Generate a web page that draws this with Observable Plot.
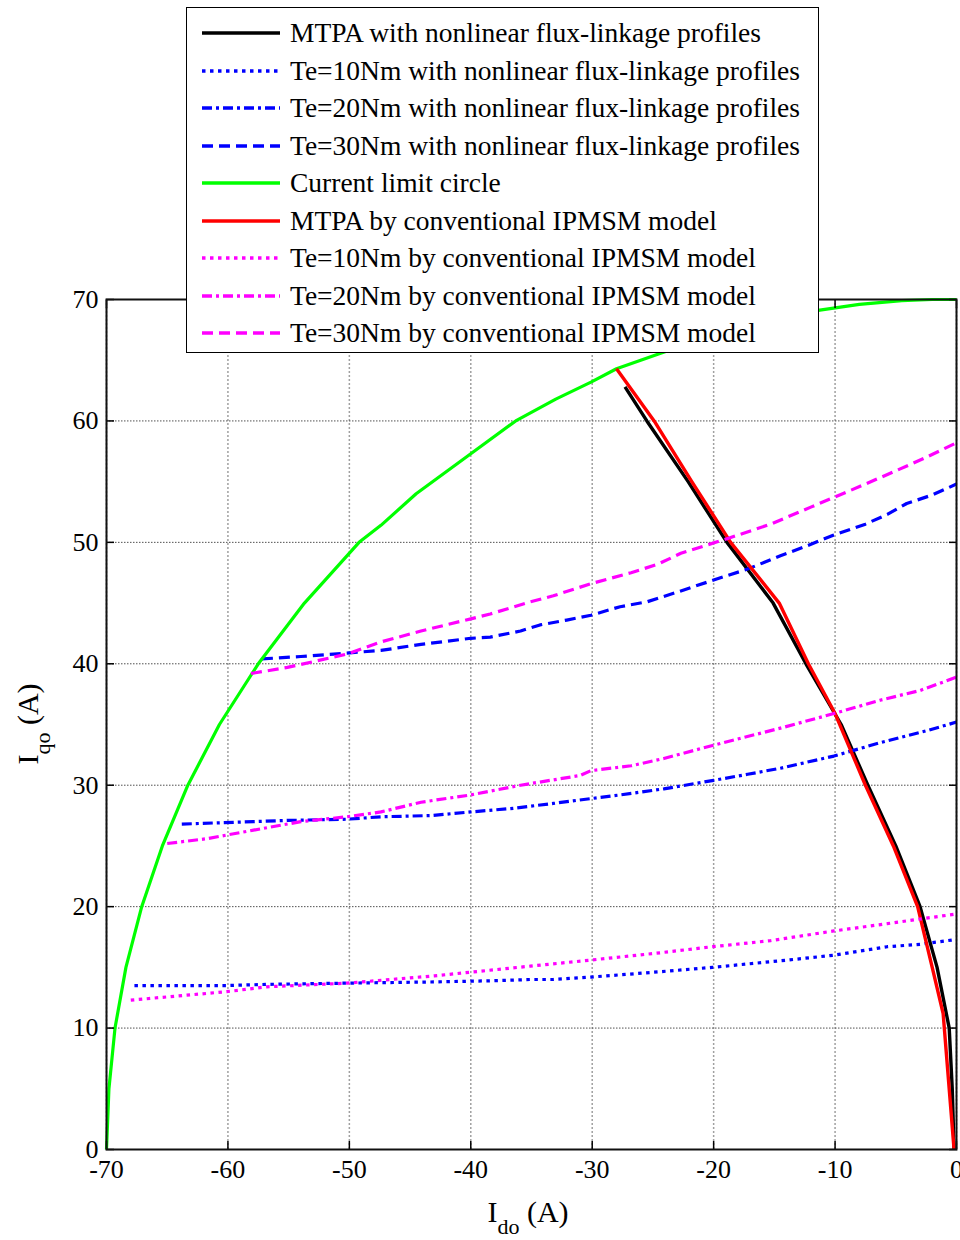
<!DOCTYPE html>
<html><head><meta charset="utf-8">
<script src="https://cdn.jsdelivr.net/npm/d3@7"></script>
<script src="https://cdn.jsdelivr.net/npm/@observablehq/plot@0.6"></script>
<style>
body{margin:0;background:#fff;font-family:"Liberation Serif","Times New Roman",serif;}
#wrap{position:relative;width:960px;height:1240px;overflow:hidden;}
#legend{position:absolute;left:186px;top:7px;width:633px;height:346px;border:1.5px solid #000;background:#fff;box-sizing:border-box;}
.row{position:absolute;left:0;height:36px;display:flex;align-items:center;white-space:nowrap;font-size:27.5px;color:#000;font-family:"Liberation Serif",serif;}
.row svg{margin-left:15px;margin-right:10px;}
#chart svg, #chart svg g, #chart svg text{font-family:"Liberation Serif",serif !important;font-variant:normal !important;}
</style></head><body><div id="wrap"><div id="chart"></div><div id="legend"></div></div>
<script>
// ---- data ----
const xTicks = [-70, -60, -50, -40, -30, -20, -10, 0];
const yTicks = [0, 10, 20, 30, 40, 50, 60, 70];

const mtpaNonlinearX = [-27.3, -25.5, -22.1, -18.9, -15.1, -12.4, -9.5, -7.3, -5.0, -3.0, -1.6, -0.6, -0.35, -0.2];
const mtpaNonlinearY = [62.8, 60.0, 55.0, 50.0, 45.0, 40.0, 35.0, 30.0, 25.0, 20.0, 15.0, 10.0, 5.0, 0.0];

const te10NonlinearX = [-67.7, -60.1, -56.8, -50.2, -43.0, -38.1, -35.1, -33.2, -30.1, -24.9, -20.1, -13.9, -10.1, -5.7, -3.0, 0];
const te10NonlinearY = [13.5, 13.5, 13.6, 13.7, 13.8, 13.9, 14.0, 14.0, 14.2, 14.6, 15.0, 15.6, 16.0, 16.7, 16.9, 17.3];

const te20NonlinearX = [-63.8, -57.9, -55.1, -50.2, -47.4, -43.3, -40.0, -36.5, -33.2, -30.1, -27.7, -24.1, -20.0, -17.2, -14.5, -10.1, -6.3, -2.4, 0];
const te20NonlinearY = [26.8, 27.0, 27.1, 27.2, 27.4, 27.5, 27.8, 28.1, 28.5, 28.9, 29.2, 29.7, 30.4, 30.9, 31.4, 32.4, 33.5, 34.5, 35.2];

const te30NonlinearX = [-57.2, -54.0, -51.3, -47.4, -44.1, -40.0, -38.4, -35.9, -34.3, -32.1, -30.1, -27.7, -25.5, -22.7, -20.0, -17.2, -14.5, -12.6, -10.1, -7.5, -5.7, -4.1, -2.0, 0];
const te30NonlinearY = [40.4, 40.6, 40.8, 41.1, 41.6, 42.1, 42.2, 42.7, 43.2, 43.6, 44.0, 44.7, 45.1, 46.0, 46.9, 47.8, 48.9, 49.6, 50.6, 51.5, 52.3, 53.2, 53.9, 54.8];

const circleX = [-70, -69.8, -69.3, -68.4, -67.1, -65.4, -63.3, -60.7, -57.5, -53.7, -49.2, -47.4, -44.5, -40.0, -36.3, -33.0, -30.1, -28.0, -24.6, -20.0, -15.5, -11.4, -8.0, -4.5, -2.0, 0];
const circleY = [0, 5, 10, 15, 20, 25, 30, 35, 40, 45, 50, 51.4, 54.0, 57.3, 60.0, 61.8, 63.2, 64.3, 65.5, 67.1, 68.3, 69.1, 69.6, 69.9, 70, 70];

const mtpaConvX = [-28.0, -24.9, -21.8, -18.6, -14.6, -12.2, -10.0, -7.5, -5.2, -3.2, -2.0, -1.1, -0.2];
const mtpaConvY = [64.3, 60.0, 55.0, 50.0, 45.0, 40.0, 35.9, 30.0, 25.0, 20.0, 15.0, 11.2, 0.0];

const te10ConvX = [-68.0, -60.1, -56.8, -50.2, -43.0, -35.1, -30.1, -24.4, -20.1, -15.3, -10.1, -5.7, 0];
const te10ConvY = [12.3, 13.0, 13.4, 13.7, 14.3, 15.1, 15.6, 16.2, 16.7, 17.2, 18.0, 18.6, 19.4];

const te20ConvX = [-65.0, -61.7, -57.9, -54.0, -50.2, -47.4, -44.1, -40.0, -35.9, -31.0, -30.1, -26.8, -24.1, -20.0, -14.5, -10.1, -6.3, -3.0, 0];
const te20ConvY = [25.2, 25.6, 26.3, 27.0, 27.4, 27.8, 28.6, 29.2, 30.0, 30.8, 31.2, 31.6, 32.2, 33.3, 34.7, 35.9, 37.0, 37.8, 38.9];

const te30ConvX = [-58.1, -55.1, -50.2, -47.4, -44.1, -40.0, -38.4, -35.1, -33.2, -30.1, -26.8, -24.6, -22.7, -18.9, -15.3, -12.0, -10.1, -7.5, -5.2, -2.5, 0];
const te30ConvY = [39.2, 39.7, 40.8, 41.8, 42.7, 43.7, 44.1, 45.1, 45.6, 46.6, 47.5, 48.2, 49.1, 50.3, 51.5, 52.9, 53.7, 54.8, 55.8, 57.0, 58.2];

const seriesLabels = [
  "MTPA with nonlinear flux-linkage profiles",
  "Te=10Nm with nonlinear flux-linkage profiles",
  "Te=20Nm with nonlinear flux-linkage profiles",
  "Te=30Nm with nonlinear flux-linkage profiles",
  "Current limit circle",
  "MTPA by conventional IPMSM model",
  "Te=10Nm by conventional IPMSM model",
  "Te=20Nm by conventional IPMSM model",
  "Te=30Nm by conventional IPMSM model"
];

// ---- styles ----
const DOT = "3.5,4.5", DASHDOT = "10,4,3,4", DASH = "11,6";
const styles = [
  {stroke: "#000000", dash: null, width: 3.4},
  {stroke: "#0000ff", dash: DOT, width: 3.2},
  {stroke: "#0000ff", dash: DASHDOT, width: 3.2},
  {stroke: "#0000ff", dash: DASH, width: 3.2},
  {stroke: "#00ff00", dash: null, width: 3.2},
  {stroke: "#ff0000", dash: null, width: 3.4},
  {stroke: "#ff00ff", dash: DOT, width: 3.2},
  {stroke: "#ff00ff", dash: DASHDOT, width: 3.2},
  {stroke: "#ff00ff", dash: DASH, width: 3.2}
];
const seriesXY = [
  [mtpaNonlinearX, mtpaNonlinearY],
  [te10NonlinearX, te10NonlinearY],
  [te20NonlinearX, te20NonlinearY],
  [te30NonlinearX, te30NonlinearY],
  [circleX, circleY],
  [mtpaConvX, mtpaConvY],
  [te10ConvX, te10ConvY],
  [te20ConvX, te20ConvY],
  [te30ConvX, te30ConvY]
];
const tables = seriesXY.map(([xs, ys]) => xs.map((x, i) => ({x, y: ys[i]})));

const lineMarks = tables.map((t, i) => Plot.line(t, {
  x: "x", y: "y", stroke: styles[i].stroke, strokeWidth: styles[i].width,
  strokeDasharray: styles[i].dash, strokeLinecap: "butt", strokeLinejoin: "round"
}));

const FF = "Liberation Serif";
const fmt = d => String(d);

const chart = Plot.plot({
  width: 960, height: 1240,
  marginLeft: 106, marginRight: 4, marginTop: 299, marginBottom: 91,
  style: {fontFamily: FF, fontSize: "26px", color: "#000", background: "#fff", overflow: "visible"},
  x: {domain: [-70, 0]},
  y: {domain: [0, 70]},
  marks: [
    Plot.gridX(xTicks, {stroke: "#a0a0a0", strokeOpacity: 1, strokeWidth: 1.5, strokeDasharray: "2,2"}),
    Plot.gridY(yTicks, {stroke: "#505050", strokeOpacity: 1, strokeWidth: 1, strokeDasharray: "1.5,1.5"}),
    ...lineMarks,
    Plot.axisX(xTicks, {anchor: "bottom", tickSize: 0, tickPadding: 10, fontSize: 26, fontFamily: FF, tickFormat: fmt, label: null}),
    Plot.axisX(xTicks, {anchor: "bottom", tickSize: -8, tickFormat: () => "", label: null, strokeWidth: 1.5}),
    Plot.axisX(xTicks, {anchor: "top", tickSize: -8, tickFormat: () => "", label: null, strokeWidth: 1.5}),
    Plot.axisY(yTicks, {anchor: "left", tickSize: 0, tickPadding: 8, fontSize: 26, fontFamily: FF, tickFormat: fmt, label: null}),
    Plot.axisY(yTicks, {anchor: "left", tickSize: -8, tickFormat: () => "", label: null, strokeWidth: 1.5}),
    Plot.axisY(yTicks, {anchor: "right", tickSize: -8, tickFormat: () => "", label: null, strokeWidth: 1.5}),
    Plot.frame({stroke: "#111", strokeWidth: 2})
  ]
});
document.getElementById("chart").appendChild(chart);

// axis titles with subscripts
const svg = d3.select(chart);
const xl = svg.append("text").attr("x", 528).attr("y", 1222).attr("text-anchor", "middle")
  .attr("font-size", 30).attr("font-family", FF).attr("fill", "#000");
xl.append("tspan").text("I");
xl.append("tspan").attr("dy", 12).attr("font-size", 22).text("do");
xl.append("tspan").attr("dy", -12).text(" (A)");
const yl = svg.append("text").attr("transform", "translate(38,724) rotate(-90)").attr("text-anchor", "middle")
  .attr("font-size", 30).attr("font-family", FF).attr("fill", "#000");
yl.append("tspan").text("I");
yl.append("tspan").attr("dy", 12).attr("font-size", 22).text("qo");
yl.append("tspan").attr("dy", -12).text(" (A)");

// legend
const legend = d3.select("#legend");
seriesLabels.forEach((lab, i) => {
  const row = legend.append("div").attr("class", "row").style("top", (7 + 37.5 * i) + "px");
  const s = row.append("svg").attr("width", 78).attr("height", 10);
  s.append("line").attr("x1", 0).attr("x2", 78).attr("y1", 5).attr("y2", 5)
    .attr("stroke", styles[i].stroke).attr("stroke-width", 3.5)
    .attr("stroke-dasharray", styles[i].dash);
  row.append("span").text(lab);
});
</script></body></html>
